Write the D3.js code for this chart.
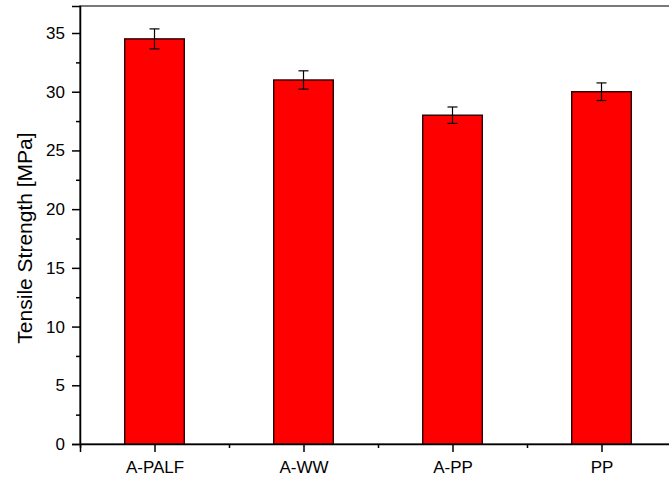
<!DOCTYPE html>
<html>
<head>
<meta charset="utf-8">
<script src="https://cdn.jsdelivr.net/npm/d3@7"></script>
<style>
  html, body { margin: 0; padding: 0; background: #fff; }
  svg { display: block; }
  text { font-family: "Liberation Sans", Arial, sans-serif; fill: #000; }
</style>
</head>
<body>
<svg id="chart" width="669" height="484"></svg>
<script>
// Tensile strength of the four materials, with standard deviation
const categories = ["A-PALF", "A-WW", "A-PP", "PP"];
const strength = [34.5, 31.0, 28.0, 30.0];
const errors = [0.85, 0.78, 0.7, 0.75];
const yTicks = [0, 5, 10, 15, 20, 25, 30, 35];
const yMinorTicks = [2.5, 7.5, 12.5, 17.5, 22.5, 27.5, 32.5];

const svg = d3.select("#chart");
const plotLeft = 80, plotRight = 676, plotTop = 6, plotBottom = 444;

const x = d3.scaleLinear().domain([0.5, categories.length + 0.5]).range([plotLeft, plotRight]);
const y = d3.scaleLinear().domain([0, 37.3]).range([plotBottom, plotTop]);
const barW = (x(2) - x(1)) * 0.4;

// frame
svg.append("rect")
  .attr("x", plotLeft).attr("y", plotTop)
  .attr("width", plotRight - plotLeft).attr("height", plotBottom - plotTop)
  .attr("fill", "none").attr("stroke", "#333").attr("stroke-width", 1.3);

// bars
svg.append("g").selectAll("rect")
  .data(strength)
  .join("rect")
  .attr("x", (d, i) => x(i + 1) - barW / 2)
  .attr("y", d => y(d))
  .attr("width", barW)
  .attr("height", d => y(0) - y(d))
  .attr("fill", "#ff0000")
  .attr("stroke", "#2a0000")
  .attr("stroke-width", 1.4);

// error bars
const eb = svg.append("g").attr("stroke", "#000").attr("stroke-width", 1.2);
strength.forEach((v, i) => {
  const cx = x(i + 1), e = errors[i];
  eb.append("line").attr("x1", cx).attr("x2", cx).attr("y1", y(v + e)).attr("y2", y(v - e));
  eb.append("line").attr("x1", cx - 5).attr("x2", cx + 5).attr("y1", y(v + e)).attr("y2", y(v + e));
  eb.append("line").attr("x1", cx - 5).attr("x2", cx + 5).attr("y1", y(v - e)).attr("y2", y(v - e));
});

// y axis
svg.append("g").attr("transform", `translate(${plotLeft},0)`)
  .call(d3.axisLeft(y).tickValues(yTicks).tickSize(8).tickPadding(7));
svg.append("g").attr("transform", `translate(${plotLeft},0)`)
  .call(d3.axisLeft(y).tickValues(yMinorTicks).tickSize(4).tickFormat(""))
  .call(g => g.select(".domain").remove());

// x axis
svg.append("g").attr("transform", `translate(0,${plotBottom})`)
  .call(d3.axisBottom(x).tickValues(d3.range(1, categories.length + 1))
    .tickFormat(d => categories[d - 1]).tickSize(8).tickPadding(9));
svg.append("g").attr("transform", `translate(0,${plotBottom})`)
  .call(d3.axisBottom(x).tickValues(d3.range(0.5, categories.length + 1, 1)).tickSize(4).tickFormat(""))
  .call(g => g.select(".domain").remove());

svg.selectAll(".domain").attr("stroke", "#000").attr("stroke-width", 1.5);
svg.selectAll(".tick line").attr("stroke", "#000").attr("stroke-width", 1.5);
svg.selectAll(".tick text").attr("font-size", 17).attr("font-family", "Liberation Sans, Arial, sans-serif");

// y axis title
svg.append("text")
  .attr("transform", `translate(32,238) rotate(-90)`)
  .attr("text-anchor", "middle")
  .attr("font-size", 21)
  .text("Tensile Strength [MPa]");
</script>
</body>
</html>
